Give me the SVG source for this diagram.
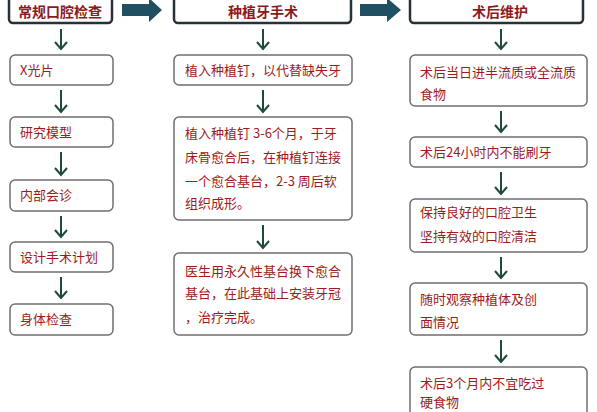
<svg xmlns="http://www.w3.org/2000/svg" width="597" height="412" viewBox="0 0 597 412">
<style>
.hd{fill:#fff;stroke:#263238;stroke-width:2.5}
.bx{fill:#fff;stroke:#6f6f6f;stroke-width:1.5}
.t{font-family:"Noto Sans CJK SC","Liberation Sans",sans-serif;font-size:13px;fill:#9b1b22}
.th{font-family:"Noto Sans CJK SC","Liberation Sans",sans-serif;font-size:14px;font-weight:bold;fill:#8b1a1f}
.ar{stroke:#1d4a3c;stroke-width:2;fill:none}
</style>
<rect width="597" height="412" fill="#fff"/>
<g id="connectors">
<path d="M122 4 H149 V-2 L162 10 L149 22 V16 H122 Z" fill="#1f4f60"/>
<path d="M360 4 H387 V-2 L401 10 L387 22 V16 H360 Z" fill="#1f4f60"/>
<g class="ar">
<path d="M61 29 V49 M55 42 L61 49 L67 42"/>
<path d="M61 90 V112 M55 105 L61 112 L67 105"/>
<path d="M61 152 V175 M55 168 L61 175 L67 168"/>
<path d="M61 216 V237 M55 230 L61 237 L67 230"/>
<path d="M61 277 V298 M55 291 L61 298 L67 291"/>
<path d="M263 29 V49 M257 42 L263 49 L269 42"/>
<path d="M263 90 V112 M257 105 L263 112 L269 105"/>
<path d="M263 225 V248 M257 241 L263 248 L269 241"/>
<path d="M501 29 V49 M495 42 L501 49 L507 42"/>
<path d="M501 111 V132 M495 125 L501 132 L507 125"/>
<path d="M501 172 V194 M495 187 L501 194 L507 187"/>
<path d="M501 257 V278 M495 271 L501 278 L507 271"/>
<path d="M501 340 V362 M495 355 L501 362 L507 355"/>
</g>
</g>
<g id="h1"><rect class="hd" x="9" y="-12" width="103" height="35" rx="4"/><text class="th" x="60" y="17" text-anchor="middle">常规口腔检查</text></g>
<g id="h2"><rect class="hd" x="174" y="-12" width="177" height="35" rx="4"/><text class="th" x="263" y="17" text-anchor="middle">种植牙手术</text></g>
<g id="h3"><rect class="hd" x="410" y="-12" width="173" height="35" rx="4"/><text class="th" x="500" y="17" text-anchor="middle">术后维护</text></g>
<g id="a1"><rect class="bx" x="10" y="55" width="103" height="30" rx="5"/><text class="t" x="20" y="75">X光片</text></g>
<g id="a2"><rect class="bx" x="10" y="117" width="103" height="30" rx="5"/><text class="t" x="20" y="137">研究模型</text></g>
<g id="a3"><rect class="bx" x="10" y="180" width="103" height="31" rx="5"/><text class="t" x="20" y="200">内部会诊</text></g>
<g id="a4"><rect class="bx" x="10" y="242" width="103" height="30" rx="5"/><text class="t" x="20" y="262">设计手术计划</text></g>
<g id="a5"><rect class="bx" x="10" y="304" width="103" height="31" rx="5"/><text class="t" x="20" y="324">身体检查</text></g>
<g id="b1"><rect class="bx" x="174" y="55" width="178" height="30" rx="5"/><text class="t" x="185" y="75">植入种植钉，以代替缺失牙</text></g>
<g id="b2"><rect class="bx" x="174" y="117" width="178" height="103" rx="5"/><text class="t" x="185" y="138">植入种植钉 3-6个月，于牙</text><text class="t" x="185" y="162">床骨愈合后，在种植钉连接</text><text class="t" x="185" y="186">一个愈合基台，2-3 周后软</text><text class="t" x="185" y="208">组织成形。</text></g>
<g id="b3"><rect class="bx" x="174" y="253" width="178" height="82" rx="5"/><text class="t" x="185" y="276">医生用永久性基台换下愈合</text><text class="t" x="185" y="298">基台，在此基础上安装牙冠</text><text class="t" x="185" y="322">，治疗完成。</text></g>
<g id="c1"><rect class="bx" x="410" y="55" width="177" height="51" rx="5"/><text class="t" x="420" y="77">术后当日进半流质或全流质</text><text class="t" x="420" y="99">食物</text></g>
<g id="c2"><rect class="bx" x="410" y="137" width="177" height="30" rx="5"/><text class="t" x="420" y="157">术后24小时内不能刷牙</text></g>
<g id="c3"><rect class="bx" x="410" y="199" width="177" height="53" rx="5"/><text class="t" x="420" y="217">保持良好的口腔卫生</text><text class="t" x="420" y="241">坚持有效的口腔清洁</text></g>
<g id="c4"><rect class="bx" x="410" y="283" width="177" height="52" rx="5"/><text class="t" x="420" y="304">随时观察种植体及创</text><text class="t" x="420" y="327">面情况</text></g>
<g id="c5"><rect class="bx" x="410" y="367" width="177" height="60" rx="5"/><text class="t" x="420" y="388">术后3个月内不宜吃过</text><text class="t" x="420" y="407">硬食物</text></g>
</svg>
